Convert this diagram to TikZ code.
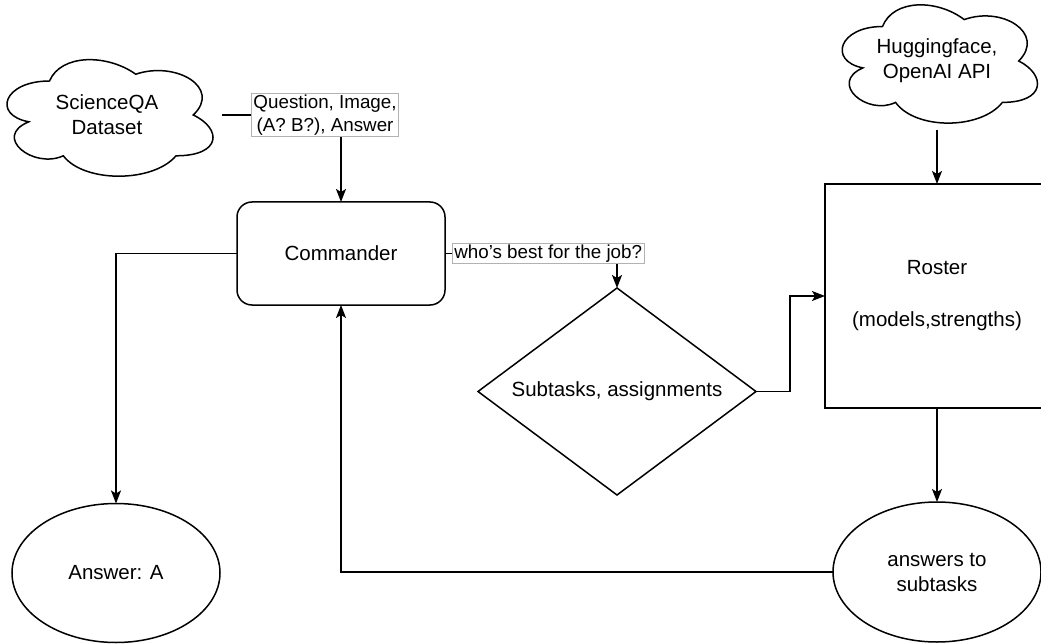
\documentclass[tikz,border=0pt]{standalone}
\usepackage{fontspec}
\setmainfont{Liberation Sans}
\usetikzlibrary{shapes.geometric,arrows.meta,calc}

\newcommand\drawcloudshape[3]{%
  \draw[edgeline,shift={(#1.north west)},x=#2pt,y=-#3pt]
    (0.25,0.25) .. controls (0.05,0.25) and (0,0.5) .. (0.16,0.55)
    .. controls (0,0.66) and (0.18,0.9) .. (0.31,0.8)
    .. controls (0.4,1) and (0.7,1) .. (0.8,0.8)
    .. controls (1,0.8) and (1,0.6) .. (0.875,0.5)
    .. controls (1,0.3) and (0.8,0.1) .. (0.625,0.2)
    .. controls (0.5,0.05) and (0.3,0.05) .. (0.25,0.25) -- cycle;}

\begin{document}
\begin{tikzpicture}[x=1pt,y=1pt,
  base/.style={font=\fontsize{20.5}{25}\selectfont, text=black, align=center},
  edgeline/.style={line width=1.5pt, draw=black},
  arr/.style={edgeline, -{Stealth[length=13pt,width=10pt,inset=3pt]}},
  lbl/.style={font=\fontsize{18.8}{23}\selectfont, text=black, fill=white, draw=black!30, line width=0.6pt, inner xsep=2pt, inner ysep=1pt, align=center},
  cloudbox/.style={base, rectangle, inner sep=0pt, outer sep=0pt},
  cmdbox/.style={base, edgeline, fill=white, rectangle, rounded corners=15pt, minimum width=208pt, minimum height=103pt, inner sep=0pt, outer sep=0pt},
  rosterbox/.style={base, edgeline, fill=white, rectangle, minimum width=224pt, minimum height=224pt, inner sep=0pt, outer sep=0pt},
  decision/.style={base, edgeline, fill=white, diamond, aspect=1.34, minimum width=278pt, minimum height=207pt, inner sep=0pt, outer sep=0pt},
  oval/.style={base, edgeline, fill=white, ellipse, minimum width=208pt, minimum height=139pt, inner sep=0pt, outer sep=0pt}
]
\useasboundingbox (0,0) rectangle (1041,-644);
\fill[white] (0,0) rectangle (1041,-644);

% nodes
\node[cloudbox, minimum width=230pt, minimum height=136pt] (sqa) at (107,-115) {ScienceQA\\Dataset};
\drawcloudshape{sqa}{230}{136}
\node[cloudbox, minimum width=218pt, minimum height=138pt] (hf) at (937,-61) {Huggingface,\\OpenAI API};
\drawcloudshape{hf}{218}{138}

\node[cmdbox] (cmd) at (341,-253.5) {Commander};
\node[decision] (dia) at (617,-391.5) {Subtasks, assignments};
\node[rosterbox] (roster) at (937,-296) {Roster\\[27pt](models,strengths)};
\node[oval] (ans) at (116,-573) {Answer: A};
\node[oval, minimum height=140pt] (sub) at (937,-572) {answers to\\subtasks};

\coordinate (jn) at ($(dia.east)+(34,0)$);

% connectors
\draw[arr] (sqa.east) -| node[lbl, pos=0.433] {Question, Image,\\(A? B?), Answer} (cmd.north);
\draw[arr] (cmd.west) -| (ans.north);
\draw[arr] (cmd.east) -| node[lbl, pos=0.30] {who's best for the job?} (dia.north);
\draw[arr] (dia.east) -- (jn) |- (roster.west);
\draw[arr] (hf.south) -- (roster.north);
\draw[arr] (roster.south) -- (sub.north);
\draw[arr] (sub.west) -| (cmd.south);
\end{tikzpicture}
\end{document}
